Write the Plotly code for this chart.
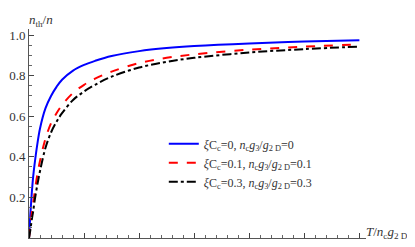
import plotly.graph_objects as go

T = [0, 0.25, 0.5, 0.75, 1, 1.5, 2, 3, 4, 5, 6, 8, 10, 12, 15, 20, 25, 30, 40, 50, 60]
blue_vals = [0, 0.12, 0.22, 0.30, 0.36, 0.46, 0.54, 0.64, 0.70, 0.745, 0.78, 0.825, 0.853,
             0.873, 0.897, 0.921, 0.936, 0.946, 0.959, 0.968, 0.974]
red_vals = [0, 0.06, 0.12, 0.17, 0.22, 0.31, 0.38, 0.49, 0.565, 0.615, 0.655, 0.715, 0.755,
            0.785, 0.82, 0.862, 0.888, 0.905, 0.928, 0.943, 0.954]
black_vals = [0, 0.04, 0.09, 0.13, 0.18, 0.26, 0.33, 0.445, 0.52, 0.573, 0.615, 0.68, 0.722,
              0.755, 0.795, 0.84, 0.868, 0.888, 0.914, 0.931, 0.943]

names = [
    "<i>&#958;</i>C<sub>c</sub>=0, <i>n</i><sub>c</sub><i>g</i><sub>3</sub>/<i>g</i><sub>2 D</sub>=0",
    "<i>&#958;</i>C<sub>c</sub>=0.1, <i>n</i><sub>c</sub><i>g</i><sub>3</sub>/<i>g</i><sub>2 D</sub>=0.1",
    "<i>&#958;</i>C<sub>c</sub>=0.3, <i>n</i><sub>c</sub><i>g</i><sub>3</sub>/<i>g</i><sub>2 D</sub>=0.3",
]
x_ticks = [10, 20, 30, 40, 50, 60]
y_ticks = [0.2, 0.4, 0.6, 0.8, 1.0]

FONT = "Liberation Serif"

fig = go.Figure()
styles = [("#0000ff", "solid"), ("#ff0000", "dash"), ("#000000", "dashdot")]
for i, (vals, (col, dash)) in enumerate(zip([blue_vals, red_vals, black_vals], styles)):
    fig.add_trace(go.Scatter(
        x=T, y=vals, mode="lines", name=names[i],
        line=dict(color=col, dash=dash, width=2, shape="spline"),
    ))

fig.update_layout(
    template="none",
    width=415, height=247,
    margin=dict(l=21, r=57, t=21, b=17, pad=0),
    plot_bgcolor="white", paper_bgcolor="white",
    font=dict(family=FONT, size=13, color="#333"),
    showlegend=True,
    legend=dict(x=0.40, y=0.52, xanchor="left", yanchor="top",
                font=dict(family=FONT, size=12, color="#333")),
    xaxis=dict(range=[0, 61.2], tickvals=x_ticks, showgrid=False, zeroline=False, automargin=False,
               showline=True, linecolor="#555", ticks="inside", ticklen=5, tickcolor="#444",
               minor=dict(dtick=2, ticks="inside", ticklen=3, tickcolor="#666", showgrid=False)),
    yaxis=dict(range=[0, 1.03], tickvals=y_ticks, tickformat=".1f", showgrid=False, zeroline=False,
               automargin=False,
               showline=True, linecolor="#555", ticks="inside", ticklen=5, tickcolor="#444",
               minor=dict(dtick=0.05, ticks="inside", ticklen=3, tickcolor="#666", showgrid=False)),
)

fig.add_annotation(xref="paper", yref="paper", x=0.0, y=1.0, xanchor="left", yanchor="bottom",
                   text="<i>n</i><sub>th</sub>/<i>n</i>", showarrow=False, xshift=-2, yshift=-2)
fig.add_annotation(xref="paper", yref="y", x=1.0, y=0, xanchor="left", yanchor="middle",
                   text="<i>T</i>/<i>n</i><sub>c</sub><i>g</i><sub>2 D</sub>",
                   showarrow=False, yshift=6, xshift=-2)

fig.write_html("out.html")
